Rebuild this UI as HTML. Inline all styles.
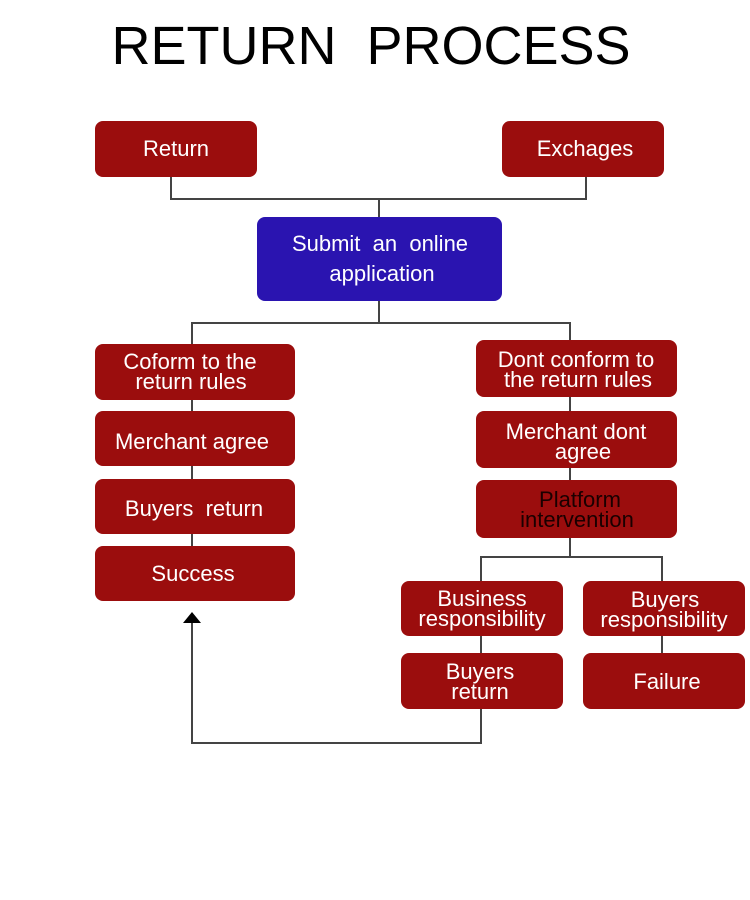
<!DOCTYPE html>
<html><head><style>body{margin:0;background:#fff}svg{display:block}text{font-family:"Liberation Sans",sans-serif;fill:#fff;text-anchor:middle}</style></head><body>
<svg width="750" height="900" viewBox="0 0 750 900" xmlns="http://www.w3.org/2000/svg">
<text x="371" y="64" font-size="54" style="fill:#000" xml:space="preserve">RETURN  PROCESS</text>
<g stroke="#444" stroke-width="2" fill="none">
<path d="M171 177V199H586V177M379 199V217"/>
<path d="M379 301V323M192 344V323H570V340"/>
<path d="M192 400V546M570 397V480"/>
<path d="M570 538V557M481 581V557H662V581"/>
<path d="M481 636V653M662 636V653"/>
<path d="M481 709V743H192V620"/>
</g>
<polygon points="192,612 183,623 201,623" fill="#000"/>
<g fill="#9b0d0d">
<rect x="95" y="121" width="162" height="56" rx="8"/>
<rect x="502" y="121" width="162" height="56" rx="8"/>
<rect x="95" y="344" width="200" height="56" rx="8"/>
<rect x="95" y="411" width="200" height="55" rx="8"/>
<rect x="95" y="479" width="200" height="55" rx="8"/>
<rect x="95" y="546" width="200" height="55" rx="8"/>
<rect x="476" y="340" width="201" height="57" rx="8"/>
<rect x="476" y="411" width="201" height="57" rx="8"/>
<rect x="476" y="480" width="201" height="58" rx="8"/>
<rect x="401" y="581" width="162" height="55" rx="8"/>
<rect x="583" y="581" width="162" height="55" rx="8"/>
<rect x="401" y="653" width="162" height="56" rx="8"/>
<rect x="583" y="653" width="162" height="56" rx="8"/>
</g>
<rect x="257" y="217" width="245" height="84" rx="8" fill="#2a14b0"/>
<g font-size="22">
<text x="176" y="156">Return</text>
<text x="585" y="156">Exchages</text>
<text x="380" y="251" xml:space="preserve">Submit  an  online</text>
<text x="382" y="281">application</text>
<text x="190" y="369">Coform to the</text>
<text x="191" y="389">return rules</text>
<text x="192" y="449">Merchant agree</text>
<text x="194" y="516" xml:space="preserve">Buyers  return</text>
<text x="193" y="581">Success</text>
<text x="576" y="367">Dont conform to</text>
<text x="578" y="387">the return rules</text>
<text x="576" y="439">Merchant dont</text>
<text x="583" y="459">agree</text>
<text x="580" y="507" style="fill:#1a0000">Platform</text>
<text x="577" y="527" style="fill:#1a0000">intervention</text>
<text x="482" y="606">Business</text>
<text x="482" y="626">responsibility</text>
<text x="665" y="607">Buyers</text>
<text x="664" y="627">responsibility</text>
<text x="480" y="679">Buyers</text>
<text x="480" y="699">return</text>
<text x="667" y="689">Failure</text>
</g>
</svg>
</body></html>
